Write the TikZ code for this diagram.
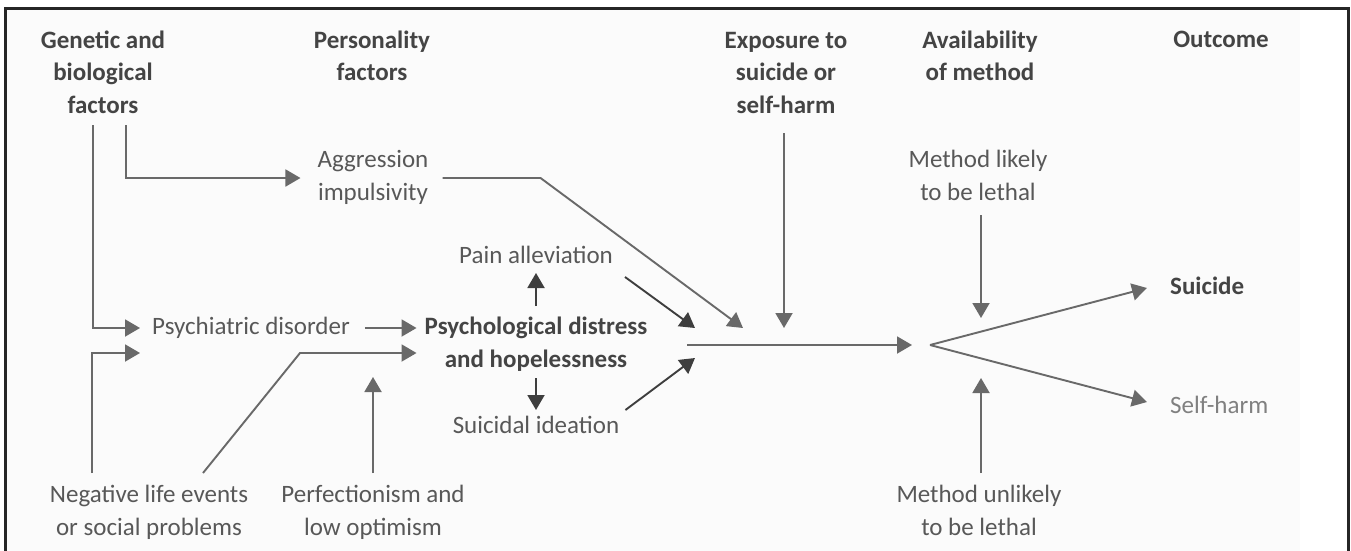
\documentclass[tikz,border=0pt]{standalone}
\usepackage{fontspec}
\setmainfont{Carlito}
\usepackage{tikz}
\usetikzlibrary{arrows.meta}
\definecolor{headgray}{RGB}{68,68,68}
\definecolor{textgray}{RGB}{88,88,88}
\definecolor{softgray}{RGB}{128,128,128}
\definecolor{linegray}{RGB}{105,105,105}
\definecolor{deepgray}{RGB}{62,62,62}
\definecolor{panelgray}{RGB}{251,251,251}
\tikzset{
  my arrow style/.style={
    -{Triangle[length=15pt, width=17pt]},  % filled arrow tip
    line width=1.9pt,                      % connector thickness
    draw=linegray,
  },
  dark arrow style/.style={my arrow style, draw=deepgray},
  label text/.style={inner sep=0pt, anchor=base, align=center, text=textgray,
    font=\fontsize{25}{32.5}\selectfont},
  head text/.style={label text, text=headgray,
    font=\fontsize{25}{32.5}\selectfont\bfseries},
}

\begin{document}
\begin{tikzpicture}[x=1pt, y=-1pt]
    % Frame
    \useasboundingbox (0,0) rectangle (1351,551);
    \fill[panelgray] (6,10) rectangle (1300,551);
    \draw[line width=3pt, black!85] (5,551) -- (5,9) -- (1348,9) -- (1348,551);

    % Column headings (base = last line)
    \foreach \name/\x/\y/\txt in {gen/103/113/{Genetic and\\biological\\factors},
        pers/372/81/{Personality\\factors}, expo/786/113/{Exposure to\\suicide or\\self-harm},
        avail/980/81/{Availability\\of method}, outc/1221/48/{Outcome}} {
      \node[head text] (\name) at (\x,\y) {\txt};
    }

    % Factors
    \node[label text] (aggr) at (373,200) {Aggression\\impulsivity};
    \node[label text] (likely) at (978,200) {Method likely\\to be lethal};
    \node[label text] (pain) at (536,263) {Pain alleviation};
    \node[label text] (psych) at (251,334) {Psychiatric disorder};
    \node[head text] (dist) at (536,367) {Psychological distress\\and hopelessness};
    \node[label text] (ideat) at (536,433) {Suicidal ideation};
    \node[label text] (neg) at (149,535) {Negative life events\\or social problems};
    \node[label text] (perf) at (373,535) {Perfectionism and\\low optimism};
    \node[label text] (unlik) at (979,535) {Method unlikely\\to be lethal};

    % Outcomes
    \node[head text, anchor=base west] (suic) at (1170,294) {Suicide};
    \node[label text, anchor=base west, text=softgray] (harm) at (1170,413) {Self-harm};

    % Junction points
    \coordinate (hub) at (687,345);
    \coordinate (fork) at (930,345);
    \coordinate (aggrTip) at (743,328);
    \coordinate (painTip) at (695,328);
    \coordinate (ideatTip) at (695,358);
    \coordinate (expoTip) at (784,328);
    \coordinate (perfTip) at (373,377);

    % Left side
    \draw[my arrow style] ([shift={(-10,12)}]gen.base) |- ([shift={(-12,-6)}]psych.base west);
    \draw[my arrow style] ([shift={(23,12)}]gen.base) |- ([shift={(-17,-22)}]aggr.base west);
    \draw[my arrow style] ([shift={(-57,-62)}]neg.base) |- ([shift={(-12,19)}]psych.base west);
    \draw[my arrow style] ([shift={(54,-62)}]neg.base) -- ++(97,-120)
        -- ([shift={(-8,-14)}]dist.base west);
    \draw[my arrow style] ([shift={(15,-6)}]psych.base east) -- ([shift={(-8,-39)}]dist.base west);
    \draw[my arrow style] ([shift={(0,-62)}]perf.base) -- (perfTip);

    % Around distress
    \draw[dark arrow style] ([shift={(0,-61)}]dist.base) -- ([shift={(0,10)}]pain.base);
    \draw[dark arrow style] ([shift={(0,11)}]dist.base) -- ([shift={(0,-23)}]ideat.base);
    \draw[dark arrow style] ([shift={(12,14)}]pain.base east) -- (painTip);
    \draw[dark arrow style] ([shift={(6,-23)}]ideat.base east) -- (ideatTip);

    % Into the junction
    \draw[my arrow style] ([shift={(14,-22)}]aggr.base east) -- ++(98,0) -- (aggrTip);
    \draw[my arrow style] ([shift={(-2,20)}]expo.base) -- (expoTip);
    \draw[my arrow style] (hub) -- ([xshift=-18pt]fork);

    % Method and outcome
    \draw[my arrow style] ([shift={(3,15)}]likely.base) -- ([shift={(51,-27)}]fork);
    \draw[my arrow style] ([shift={(2,-62)}]unlik.base) -- ([shift={(51,33)}]fork);
    \draw[my arrow style] (fork) -- ([shift={(-23,-6)}]suic.base west);
    \draw[my arrow style] (fork) -- ([shift={(-23,-11)}]harm.base west);
\end{tikzpicture}
\end{document}
